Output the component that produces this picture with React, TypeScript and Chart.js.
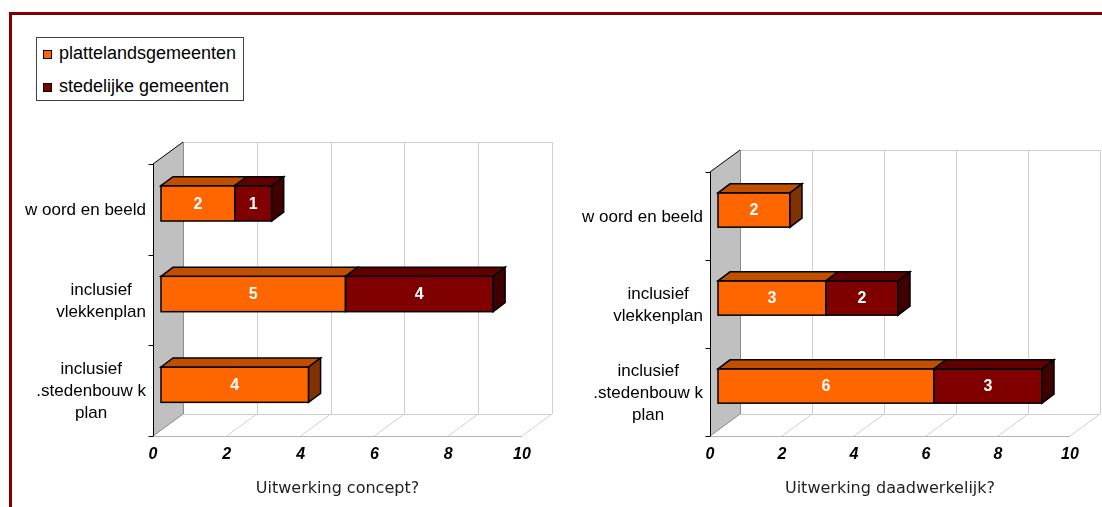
import React, { useEffect, useRef } from "react";
import { Chart, registerables } from "chart.js";

Chart.register(...registerables);

// ---- data ----
const categories: string[][] = [
  ["w oord en beeld"],
  ["inclusief", "vlekkenplan"],
  ["inclusief", ".stedenbouw k", "plan"],
];
const seriesNames = ["plattelandsgemeenten", "stedelijke gemeenten"];
const conceptPlatteland = [2, 5, 4];
const conceptStedelijk = [1, 4, 0];
const werkelijkPlatteland = [2, 3, 6];
const werkelijkStedelijk = [0, 2, 3];
const xTicks = [0, 2, 4, 6, 8, 10];
const titleConcept = "Uitwerking concept?";
const titleWerkelijk = "Uitwerking daadwerkelijk?";

// ---- style ----
const FRONT = ["#FF6600", "#800000"];
const TOP = ["#C04F00", "#600000"];
const SIDE = ["#803300", "#400000"];
const SANS = '"Liberation Sans", Arial, sans-serif';

const FX = 8, FY = -6; // bar front face offset from front plane
const DX = 12, DY = -9; // bar depth
const WX = 30, WY = -22; // chart depth

function make3D() {
  return {
    id: "threeD",
    beforeDatasetsDraw(chart: any) {
      const { ctx, chartArea: a, scales } = chart;
      const xs = scales.x;
      const x0 = xs.getPixelForValue(xTicks[0]);
      const x1 = xs.getPixelForValue(xTicks[xTicks.length - 1]);
      ctx.save();
      ctx.lineWidth = 1;
      // back plane + floor grid
      ctx.strokeStyle = "#cfcfcf";
      ctx.beginPath();
      for (const v of xTicks) {
        const px = xs.getPixelForValue(v);
        const bx = Math.round(px + WX) + 0.5;
        ctx.moveTo(bx, a.top + WY);
        ctx.lineTo(bx, a.bottom + WY);
        ctx.moveTo(px, a.bottom);
        ctx.lineTo(px + WX, a.bottom + WY);
      }
      const ty = Math.round(a.top + WY) + 0.5;
      ctx.moveTo(x0 + WX, ty);
      ctx.lineTo(x1 + WX, ty);
      const fy = Math.round(a.bottom + WY) + 0.5;
      ctx.moveTo(x0 + WX, fy);
      ctx.lineTo(x1 + WX, fy);
      ctx.stroke();
      // front floor edge
      ctx.strokeStyle = "#b4b4b4";
      ctx.beginPath();
      const by = Math.round(a.bottom) + 0.5;
      ctx.moveTo(x0, by);
      ctx.lineTo(x1, by);
      ctx.stroke();
      // side wall
      ctx.fillStyle = "#c0c0c0";
      ctx.beginPath();
      ctx.moveTo(x0, a.top);
      ctx.lineTo(x0 + WX, a.top + WY);
      ctx.lineTo(x0 + WX, a.bottom + WY);
      ctx.lineTo(x0, a.bottom);
      ctx.closePath();
      ctx.fill();
      ctx.strokeStyle = "#8c8c8c";
      ctx.beginPath();
      ctx.moveTo(Math.round(x0 + WX) + 0.5, a.top + WY);
      ctx.lineTo(Math.round(x0 + WX) + 0.5, a.bottom + WY);
      ctx.moveTo(x0, a.bottom);
      ctx.lineTo(x0 + WX, a.bottom + WY);
      ctx.stroke();
      ctx.strokeStyle = "#000";
      ctx.beginPath();
      ctx.moveTo(x0, a.top);
      ctx.lineTo(x0 + WX, a.top + WY);
      const ax = Math.round(x0) + 0.5;
      ctx.moveTo(ax, a.top);
      ctx.lineTo(ax, a.bottom);
      const n = chart.data.labels.length;
      for (let k = 0; k <= n; k++) {
        const yy = Math.round(a.top + (k * (a.bottom - a.top)) / n) + 0.5;
        ctx.moveTo(ax - 5, yy);
        ctx.lineTo(ax, yy);
      }
      ctx.stroke();
      ctx.restore();
      ctx.save();
      ctx.translate(FX, FY);
    },
    afterDatasetsDraw(chart: any) {
      const { ctx } = chart;
      ctx.restore();
      const ds = chart.data.datasets;
      const n = chart.data.labels.length;
      const labelsToDraw: [string, number, number][] = [];
      ctx.save();
      ctx.lineWidth = 1.5;
      ctx.strokeStyle = "#000";
      ctx.lineJoin = "miter";
      for (let j = 0; j < n; j++) {
        let last = -1;
        ds.forEach((d: any, i: number) => {
          if (d.data[j]) last = i;
        });
        ds.forEach((d: any, i: number) => {
          const v = d.data[j];
          if (!v) return;
          const el = chart.getDatasetMeta(i).data[j];
          const p = el.getProps(["x", "y", "base", "height"], true);
          const L = Math.min(p.base, p.x) + FX;
          const R = Math.max(p.base, p.x) + FX;
          const T = p.y - p.height / 2 + FY;
          const B = p.y + p.height / 2 + FY;
          ctx.strokeRect(L, T, R - L, B - T);
          ctx.fillStyle = TOP[i];
          ctx.beginPath();
          ctx.moveTo(L, T);
          ctx.lineTo(L + DX, T + DY);
          ctx.lineTo(R + DX, T + DY);
          ctx.lineTo(R, T);
          ctx.closePath();
          ctx.fill();
          ctx.stroke();
          if (i === last) {
            ctx.fillStyle = SIDE[i];
            ctx.beginPath();
            ctx.moveTo(R, T);
            ctx.lineTo(R + DX, T + DY);
            ctx.lineTo(R + DX, B + DY);
            ctx.lineTo(R, B);
            ctx.closePath();
            ctx.fill();
            ctx.stroke();
          }
          labelsToDraw.push([String(v), (L + R) / 2, (T + B) / 2]);
        });
      }
      ctx.fillStyle = "#fff";
      ctx.font = `bold 16px ${SANS}`;
      ctx.textAlign = "center";
      ctx.textBaseline = "middle";
      for (const [t, x, y] of labelsToDraw) ctx.fillText(t, x, y + 1);
      ctx.restore();
    },
    afterDraw(chart: any) {
      const { ctx, chartArea: a, scales } = chart;
      const ys = scales.y;
      ctx.save();
      ctx.font = `17px ${SANS}`;
      ctx.fillStyle = "#000";
      ctx.textAlign = "center";
      ctx.textBaseline = "middle";
      (chart.data.labels as string[][]).forEach((lines, j) => {
        const cy = ys.getPixelForValue(j);
        const w = Math.max(...lines.map((l) => ctx.measureText(l).width));
        const cx = a.left - 7 - w / 2;
        const lh = 22;
        lines.forEach((l, k) => ctx.fillText(l, cx, cy + (k - (lines.length - 1) / 2) * lh + 1));
      });
      ctx.restore();
    },
  };
}

type PanelProps = {
  left: number;
  width: number;
  padLeft: number;
  padRight: number;
  padTop: number;
  platteland: number[];
  stedelijk: number[];
  title: string;
};

function Panel({ left, width, padLeft, padRight, padTop, platteland, stedelijk, title }: PanelProps) {
  const ref = useRef<HTMLCanvasElement>(null);
  useEffect(() => {
    if (!ref.current) return;
    const chart = new Chart(ref.current, {
      type: "bar",
      data: {
        labels: categories as any,
        datasets: [
          { label: seriesNames[0], data: platteland, backgroundColor: FRONT[0], borderWidth: 0, clip: false as any },
          { label: seriesNames[1], data: stedelijk, backgroundColor: FRONT[1], borderWidth: 0, clip: false as any },
        ],
      },
      options: {
        indexAxis: "y",
        responsive: false,
        animation: false,
        events: [],
        layout: { padding: { left: padLeft, right: padRight, top: padTop, bottom: 0 } },
        plugins: { legend: { display: false }, tooltip: { enabled: false } },
        datasets: { bar: { categoryPercentage: 1, barPercentage: 0.39 } },
        scales: {
          x: {
            stacked: true,
            min: 0,
            max: 10,
            ticks: {
              stepSize: 2,
              color: "#000",
              padding: 9,
              font: { family: SANS, size: 16, weight: "bold", style: "italic" },
            },
            grid: { display: false, drawTicks: false },
            border: { display: false },
            title: {
              display: true,
              text: title,
              color: "#222",
              font: { family: '"DejaVu Sans", Verdana, sans-serif', size: 16 },
              padding: { top: 0, bottom: 9 },
            },
            afterFit: (s: any) => {
              s.height = 71;
            },
          },
          y: { stacked: true, display: false },
        },
      } as any,
      plugins: [make3D()],
    });
    return () => chart.destroy();
  }, []);
  return (
    <canvas
      ref={ref}
      width={width}
      height={507}
      style={{ position: "absolute", left, top: 0, width, height: 507 }}
    />
  );
}

function LegendRow({ top, color, text }: { top: number; color: string; text: string }) {
  return (
    <>
      <div
        style={{
          position: "absolute",
          left: 43,
          top: top,
          width: 7,
          height: 7,
          background: color,
          border: "1px solid #000",
        }}
      />
      <div
        style={{
          position: "absolute",
          left: 59,
          top: top - 7,
          font: `18px ${SANS}`,
          lineHeight: "20px",
          color: "#000",
          whiteSpace: "nowrap",
        }}
      >
        {text}
      </div>
    </>
  );
}

export default function App() {
  return (
    <div
      style={{
        position: "absolute",
        left: 0,
        top: 0,
        width: 1102,
        height: 507,
        background: "#fff",
        overflow: "hidden",
      }}
    >
      <div style={{ position: "absolute", left: 9, top: 12, width: 1093, height: 3, background: "#800000" }} />
      <div style={{ position: "absolute", left: 9, top: 12, width: 3, height: 495, background: "#800000" }} />
      <Panel
        left={0}
        width={560}
        padLeft={153}
        padRight={38}
        padTop={164}
        platteland={conceptPlatteland}
        stedelijk={conceptStedelijk}
        title={titleConcept}
      />
      <Panel
        left={560}
        width={542}
        padLeft={150}
        padRight={32}
        padTop={172}
        platteland={werkelijkPlatteland}
        stedelijk={werkelijkStedelijk}
        title={titleWerkelijk}
      />
      <div
        style={{
          position: "absolute",
          left: 36,
          top: 37,
          width: 206,
          height: 62,
          border: "1px solid #404040",
          background: "#fff",
        }}
      />
      <LegendRow top={50} color={FRONT[0]} text={seriesNames[0]} />
      <LegendRow top={83} color={FRONT[1]} text={seriesNames[1]} />
    </div>
  );
}
